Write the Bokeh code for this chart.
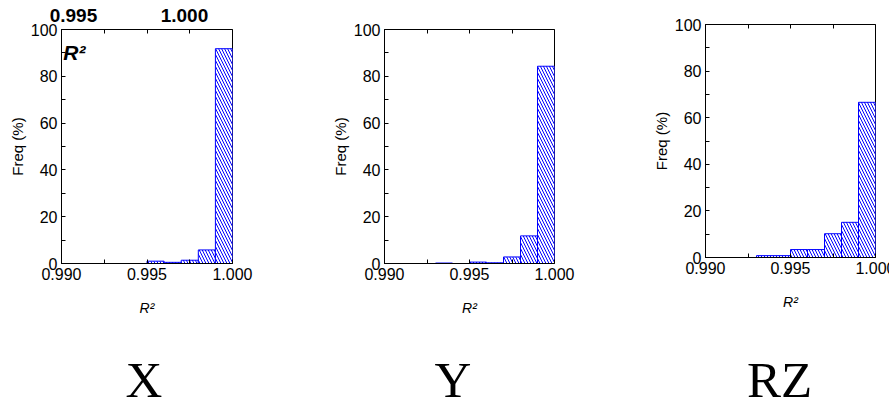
from bokeh.plotting import figure
from bokeh.layouts import row, column
from bokeh.models import Label, FixedTicker, LinearAxis, Range1d, NumeralTickFormatter, ColumnDataSource
from bokeh.core.properties import value
from bokeh.embed import file_html
from bokeh.resources import INLINE

# ---- data ----
bin_left = [0.993, 0.994, 0.995, 0.996, 0.997, 0.998, 0.999]
bin_width = 0.001
freq_x = [0.0, 0.0, 1.0, 0.5, 1.4, 5.8, 91.8]
freq_y = [0.2, 0.0, 0.6, 0.3, 2.8, 11.8, 84.3]
freq_rz = [0.8, 0.8, 3.4, 3.4, 10.2, 15.1, 66.6]
panel_names = ["X", "Y", "RZ"]
panel_name_pos = [143.5, 452.5, 779.0]
x_ticks = [0.990, 0.995, 1.000]
x_minor = [0.9925, 0.9975]
top_minor = [0.9925, 0.995, 0.9975]
y_ticks = [0, 20, 40, 60, 80, 100]
y_minor = [10, 30, 50, 70, 90]
top_note_labels = ["0.995", "1.000"]
top_note_x = [0.9907, 0.99719]

BLUE = "#0000ff"
SANS = "Liberation Sans"


def make_panel(freq, fw, fh, bl, br, bt, bb, top_labels=None):
    p = figure(frame_width=fw, frame_height=fh, title=None,
               x_range=Range1d(0.990, 1.000), y_range=Range1d(0, 100),
               output_backend="svg", toolbar_location=None,
               min_border_left=bl, min_border_right=br, min_border_top=bt, min_border_bottom=bb,
               background_fill_color="white", border_fill_color="white")
    p.grid.visible = False
    p.outline_line_color = "black"
    p.outline_line_width = 1

    left = [l for l, f in zip(bin_left, freq) if f > 0]
    right = [l + bin_width for l, f in zip(bin_left, freq) if f > 0]
    top = [f for f in freq if f > 0]
    src = ColumnDataSource(dict(left=left, right=right, top=top, bottom=[0] * len(top)))
    p.quad(left="left", right="right", top="top", bottom="bottom", source=src,
           fill_color="white", line_color=BLUE, line_width=1,
           hatch_pattern="\\", hatch_color=BLUE, hatch_scale=6, hatch_weight=1)

    xa = p.xaxis[0]
    xa.ticker = FixedTicker(ticks=x_ticks, minor_ticks=x_minor)
    xa.formatter = NumeralTickFormatter(format="0.000")
    ya = p.yaxis[0]
    ya.ticker = FixedTicker(ticks=y_ticks, minor_ticks=y_minor)
    for ax in (xa, ya):
        ax.major_tick_in = 4
        ax.major_tick_out = 0
        ax.minor_tick_in = 4
        ax.minor_tick_out = 0
        ax.axis_line_color = "black"
        ax.major_tick_line_color = "black"
        ax.minor_tick_line_color = "black"
        ax.major_label_text_font = SANS
        ax.major_label_text_font_size = "16px"
        ax.major_label_text_color = "black"
        ax.major_label_standoff = 4
        ax.axis_label_text_font = SANS
        ax.axis_label_text_color = "black"
    xa.axis_label = "R²"
    xa.axis_label_text_font_style = "italic"
    xa.axis_label_text_font_size = "14px"
    xa.axis_label_standoff = 17
    ya.axis_label = "Freq (%)"
    ya.axis_label_text_font_style = "normal"
    ya.axis_label_text_font_size = "15px"
    ya.axis_label_standoff = 2

    if top_labels:
        tk = FixedTicker(ticks=top_note_x, minor_ticks=top_minor)
        top_ax = LinearAxis(ticker=tk, major_tick_in=0, major_tick_out=0,
                            minor_tick_in=4, minor_tick_out=0, axis_line_color="black",
                            major_label_overrides={xv: t for xv, t in zip(top_note_x, top_labels)},
                            major_label_text_font=SANS, major_label_text_font_size="19px",
                            major_label_text_font_style="bold", major_label_text_color="black",
                            major_label_standoff=8)
    else:
        tk = FixedTicker(ticks=[], minor_ticks=top_minor)
        top_ax = LinearAxis(ticker=tk, major_tick_in=0, major_tick_out=0,
                            minor_tick_in=4, minor_tick_out=0, axis_line_color="black")
    p.add_layout(top_ax, "above")
    return p


p1 = make_panel(freq_x, 171, 234, 61, 96, 29, 67, top_labels=top_note_labels)
p2 = make_panel(freq_y, 170, 234, 53, 95, 29, 67)
p3 = make_panel(freq_rz, 170, 233, 53, 20, 24, 73)

p1.add_layout(Label(x=0.9901, y=90.0, text="R²", text_font=SANS, text_font_size="21px",
                    text_font_style="bold italic", text_align="left", text_baseline="alphabetic",
                    text_color="black"))

# bottom row with the panel names
names = figure(frame_width=889, frame_height=69, title=None,
               x_range=Range1d(0, 889), y_range=Range1d(0, 69),
               x_axis_type=None, y_axis_type=None, output_backend="svg", toolbar_location=None,
               min_border=0, outline_line_color=None,
               background_fill_color="white", border_fill_color="white")
names.grid.visible = False
names.text(x=panel_name_pos, y=[20] * len(panel_names), text=panel_names,
           text_font=value("Liberation Serif"), text_font_size="51px",
           text_align="center", text_baseline="alphabetic", text_color="black")

layout = column(row(p1, p2, column(p3), spacing=0), names, spacing=0)
open("out.html", "w").write(file_html(layout, INLINE))
